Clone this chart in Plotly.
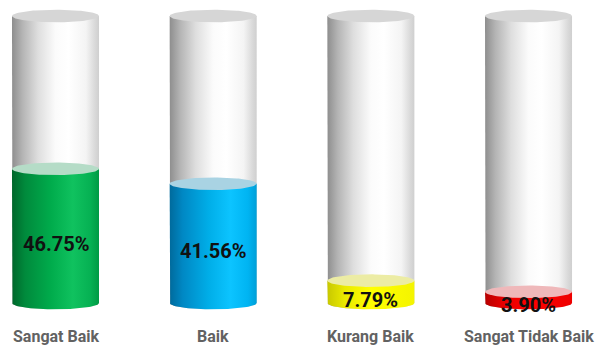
import numpy as np
import plotly.graph_objects as go

# Survey result per category (percent)
categories = ["Sangat Baik", "Baik", "Kurang Baik", "Sangat Tidak Baik"]
values = [46.75, 41.56, 7.79, 3.90]
value_labels = ["46.75%", "41.56%", "7.79%", "3.90%"]

# Liquid body gradients (left -> right) and lighter tints for the liquid surface
liquid_scales = [
    [[0, "#00672b"], [0.15, "#008a3c"], [0.45, "#00ac4c"], [0.7, "#10c25f"], [0.9, "#06b153"], [1, "#009a44"]],
    [[0, "#006a9c"], [0.15, "#0088c4"], [0.45, "#00aee8"], [0.7, "#0cc4ff"], [0.9, "#00b4f2"], [1, "#009fd8"]],
    [[0, "#c8c800"], [0.2, "#eaea00"], [0.5, "#ffff00"], [1, "#f4f400"]],
    [[0, "#b80000"], [0.2, "#e40000"], [0.5, "#ff0000"], [1, "#ee0000"]],
]
surface_colors = ["#b5dcc7", "#a9d3e3", "#ececa4", "#efb8ba"]
glass_scale = [[0, "#8e8e8e"], [0.12, "#b4b4b4"], [0.3, "#dedede"], [0.5, "#fbfbfb"],
               [0.65, "#ffffff"], [0.85, "#f4f4f4"], [0.95, "#dadada"], [1, "#cfcfcf"]]
glass_top = "#d6d6d6"

FULL = 100.0
W_PX, H_PX = 596, 345
X_RANGE = [-0.352, 3.428]
Y_RANGE = [-14.63, 105.57]
half_w = 0.276                      # cylinder half width (x units)
px_per_y = H_PX / (Y_RANGE[1] - Y_RANGE[0])
ell_b = 6.3 / px_per_y              # ellipse half height (y units)

t_low = np.linspace(np.pi, 2 * np.pi, 60)
t_full = np.linspace(0, 2 * np.pi, 120)


def body(cx, top):
    # vertical sides from `top` down to 0, closed by the lower half of the base ellipse
    xs = [cx - half_w] + list(cx + half_w * np.cos(t_low)) + [cx + half_w, cx - half_w]
    ys = [top] + list(0 + ell_b * np.sin(t_low)) + [top, top]
    return xs, ys


def ellipse(cx, cy):
    return list(cx + half_w * np.cos(t_full)), list(cy + ell_b * np.sin(t_full))


fig = go.Figure()
for i, v in enumerate(values):
    cx = i
    gx, gy = body(cx, FULL)
    fig.add_trace(go.Scatter(x=gx, y=gy, fill="toself", mode="lines", line=dict(width=0),
                             fillgradient=dict(type="horizontal", colorscale=glass_scale),
                             hoverinfo="skip", showlegend=False))
    lx, ly = body(cx, v)
    fig.add_trace(go.Scatter(x=lx, y=ly, fill="toself", mode="lines", line=dict(width=0),
                             fillgradient=dict(type="horizontal", colorscale=liquid_scales[i]),
                             hoverinfo="skip", showlegend=False))
    sx, sy = ellipse(cx, v)
    fig.add_trace(go.Scatter(x=sx, y=sy, fill="toself", mode="lines", line=dict(width=0),
                             fillcolor=surface_colors[i], hoverinfo="skip", showlegend=False))
    tx, ty = ellipse(cx, FULL)
    fig.add_trace(go.Scatter(x=tx, y=ty, fill="toself", mode="lines", line=dict(width=0),
                             fillcolor=glass_top, hoverinfo="skip", showlegend=False))

    fig.add_annotation(x=cx, y=v / 2, yshift=-8, text=value_labels[i], showarrow=False,
                       font=dict(family="Roboto", size=20, color="#111111", weight="bold"))
    fig.add_annotation(x=cx, y=0, yshift=-33, text=categories[i], showarrow=False,
                       font=dict(family="Roboto", size=16, color="#626262", weight="bold"))

fig.update_layout(
    width=W_PX, height=H_PX,
    margin=dict(l=0, r=0, t=0, b=0),
    paper_bgcolor="white", plot_bgcolor="white",
    xaxis=dict(range=X_RANGE, visible=False, fixedrange=True),
    yaxis=dict(range=Y_RANGE, visible=False, fixedrange=True),
)
fig.write_html("out.html")
